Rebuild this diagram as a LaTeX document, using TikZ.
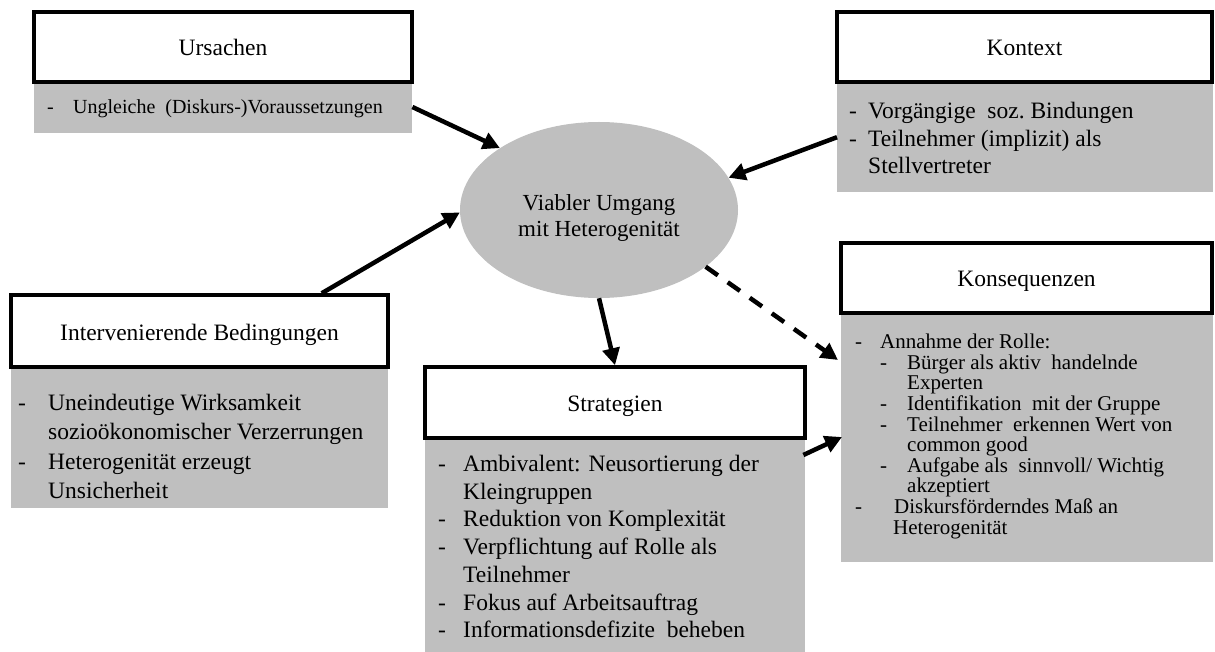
\documentclass[tikz,border=0pt]{standalone}
\usepackage{fontspec}
\setmainfont{Liberation Serif}
\usetikzlibrary{arrows.meta,shapes.geometric,calc}
\definecolor{boxgray}{RGB}{191,191,191}
\begin{document}
\begin{tikzpicture}[x=1pt,y=-1pt,
  titlebox/.style={draw=black, line width=3.5pt, fill=white, inner sep=0pt,
    text height=18pt, text depth=0pt, font=\fontsize{23.5}{28}\selectfont},
  bodybox/.style={fill=boxgray, inner sep=0pt, anchor=north west},
  ln/.style={anchor=base west, inner sep=0pt, font=\fontsize{23.5}{28}\selectfont},
  lnsmall/.style={ln, font=\fontsize{20}{24}\selectfont},
  lnk/.style={ln, font=\fontsize{21}{21}\selectfont},
  conn/.style={line width=4.5pt, -{Triangle[length=17pt,width=17pt]}},
]
\useasboundingbox (0,0) rectangle (1215,652);

% Ursachen
\node[bodybox, minimum width=378pt, minimum height=51pt] (ub) at (34,82) {};
\node[titlebox, minimum width=378pt, minimum height=70pt] (ut) at (223,47) {Ursachen};
\node[lnsmall] (u1) at (47,114) {\makebox[26pt][l]{-}Ungleiche\ \ (Diskurs-)Voraussetzungen};

% Kontext
\node[bodybox, minimum width=376pt, minimum height=110pt] (kb) at (837,82) {};
\node[titlebox, minimum width=375pt, minimum height=70pt] (kt) at (1024.5,47) {Kontext};
\node[ln] (k1) at (849,118.5) {\makebox[19pt][l]{-}Vorgängige\ \ soz.\ Bindungen};
\node[ln] (k2) at (849,146.5) {\makebox[19pt][l]{-}Teilnehmer (implizit) als};
\node[ln] (k3) at (868,174) {Stellvertreter};

% Intervenierende Bedingungen
\node[bodybox, minimum width=377pt, minimum height=141pt] (ib) at (11,367) {};
\node[titlebox, minimum width=377pt, minimum height=72pt] (it) at (199.5,331) {Intervenierende Bedingungen};
\node[ln] (i1) at (18,410) {\makebox[30pt][l]{-}Uneindeutige Wirksamkeit};
\node[ln] (i2) at (48,439.5) {sozioökonomischer Verzerrungen};
\node[ln] (i3) at (18,469) {\makebox[30pt][l]{-}Heterogenität erzeugt};
\node[ln] (i4) at (48,498) {Unsicherheit};

% Strategien
\node[bodybox, minimum width=380pt, minimum height=214pt] (sb) at (425,438) {};
\node[titlebox, minimum width=380pt, minimum height=71pt] (st) at (615,402.5) {Strategien};
\node[ln] (s1) at (438,471) {\makebox[25pt][l]{-}Ambivalent: Neusortierung der};
\node[ln] (s2) at (463,499) {Kleingruppen};
\node[ln] (s3) at (438,526.5) {\makebox[25pt][l]{-}Reduktion von Komplexität};
\node[ln] (s4) at (438,554.5) {\makebox[25pt][l]{-}Verpflichtung auf Rolle als};
\node[ln] (s5) at (463,582) {Teilnehmer};
\node[ln] (s6) at (438,610) {\makebox[25pt][l]{-}Fokus auf Arbeitsauftrag};
\node[ln] (s7) at (438,637.5) {\makebox[25pt][l]{-}Informationsdefizite\ \ beheben};

% Konsequenzen
\node[bodybox, minimum width=372pt, minimum height=249pt] (cb) at (841,313) {};
\node[titlebox, minimum width=371pt, minimum height=70pt] (ct) at (1026.5,278) {Konsequenzen};
\node[lnk] (c1) at (855,348) {\makebox[25pt][l]{-}Annahme der Rolle:};
\node[lnk] (c2) at (880,369) {\makebox[27pt][l]{-}Bürger als aktiv\ \ handelnde};
\node[lnk] (c3) at (907,389.5) {Experten};
\node[lnk] (c4) at (880,410.5) {\makebox[27pt][l]{-}Identifikation\ \ mit der Gruppe};
\node[lnk] (c5) at (880,431) {\makebox[27pt][l]{-}Teilnehmer\ \ erkennen Wert von};
\node[lnk] (c6) at (907,451.5) {common good};
\node[lnk] (c7) at (880,472) {\makebox[27pt][l]{-}Aufgabe als\ \ sinnvoll/ Wichtig};
\node[lnk] (c8) at (907,492.5) {akzeptiert};
\node[lnk] (c9) at (855,513.5) {\makebox[39pt][l]{-}Diskursförderndes Maß an};
\node[lnk] (c10) at (893,534) {Heterogenität};

% Center ellipse
\node[ellipse, fill=boxgray, minimum width=278pt, minimum height=176pt, inner sep=0pt] (ell) at (599,210) {};
\node[align=center, inner sep=0pt, font=\fontsize{23}{25.5}\selectfont] (elltext) at (599,218)
  {Viabler Umgang\\mit Heterogenität};

% Connectors
\coordinate (ustart) at ($(ub.north east)+(0,25)$);
\coordinate (istart) at ($(it.north east)+(-68,0)$);
\coordinate (kin) at ($(cb.north west)+(-3,47)$);
\coordinate (sout) at ($(sb.north east)+(-2,17)$);
\coordinate (kin2) at ($(cb.north west)+(1,124)$);
\draw[conn] (ustart) -- (ell.148);
\draw[conn] (kb.west) -- (ell.14);
\draw[conn] (istart) -- (ell.181);
\draw[conn] (ell.270) -- (st.north);
\draw[conn, dash pattern=on 15pt off 12pt] (ell.-28) -- (kin);
\draw[conn] (sout) -- (kin2);
\end{tikzpicture}
\end{document}
